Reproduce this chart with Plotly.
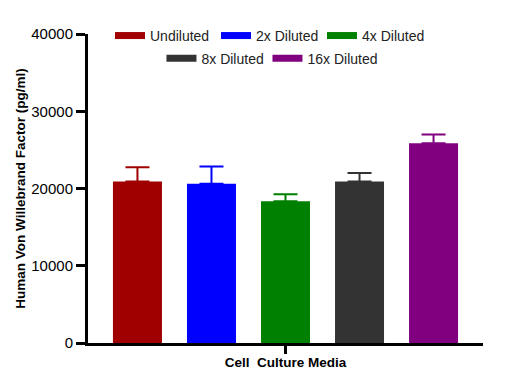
import plotly.graph_objects as go

categories = ["Cell\u00a0 Culture Media"]
series_names = ["Undiluted", "2x Diluted", "4x Diluted", "8x Diluted", "16x Diluted"]
series_means = [20900, 20600, 18350, 20900, 25850]
series_err = [1850, 2250, 900, 1100, 1150]
colors = ["#A00000", "#0000FF", "#008000", "#333333", "#800080"]
legend_rows = ["legend", "legend", "legend", "legend2", "legend2"]
y_ticks = [0, 10000, 20000, 30000, 40000]

fig = go.Figure()
for name, m, e, c in zip(series_names, series_means, series_err, colors):
    fig.add_trace(go.Bar(
        x=categories, y=[m], name=name, marker=dict(color=c, line=dict(width=0)),
        error_y=dict(type="data", array=[e], arrayminus=[0], symmetric=False,
                     color=c, thickness=2, width=12),
        showlegend=False,
    ))
last_in_row = [False, False, True, False, True]
for name, c, lg, last in zip(series_names, colors, legend_rows, last_in_row):
    fig.add_trace(go.Scatter(
        x=[None], y=[None], mode="lines", name=name, legend=lg,
        line=dict(color=c, width=7), showlegend=True,
        legendwidth=80 if last else None,
    ))

legend_common = dict(orientation="h", font=dict(size=14, color="#222"),
                     bgcolor="rgba(0,0,0,0)", entrywidthmode="pixels", entrywidth=61,
                     xanchor="left", yanchor="middle", borderwidth=0)

# page body has an 8px margin, so the figure is offset by 8px right and down
fig.update_layout(
    width=527, height=389,
    margin=dict(l=80, r=52, t=20, b=54),
    plot_bgcolor="white", paper_bgcolor="white",
    barmode="group", bargap=0.063, bargroupgap=0.338,
    font=dict(family="Liberation Sans, Arial, sans-serif", color="#000"),
    showlegend=True,
    legend=dict(x=0.0557, y=0.9937, **legend_common),
    legend2=dict(x=0.186, y=0.9206, **legend_common),
)
fig.update_xaxes(
    showline=True, linewidth=3, linecolor="black", ticks="outside", ticklen=8,
    tickwidth=3, tickcolor="black", showgrid=False, automargin=False,
    tickfont=dict(size=13.5, family="Liberation Sans, Arial, sans-serif", color="#000"),
    tickprefix="<b>", ticksuffix="</b>", ticklabelstandoff=-3,
)
fig.update_yaxes(
    range=[0, 40000], tickvals=y_ticks, ticktext=[str(v) for v in y_ticks],
    showline=True, linewidth=3, linecolor="black", ticks="outside", ticklen=9,
    tickwidth=3, tickcolor="black", showgrid=False, zeroline=False, automargin=False,
    tickfont=dict(size=15, color="#000"),
    tickprefix="<b>", ticksuffix="</b>",
    title=dict(text="<b>Human Von Willebrand Factor (pg/ml)</b>", font=dict(size=13.5), standoff=3),
)

fig.write_html("out.html")
